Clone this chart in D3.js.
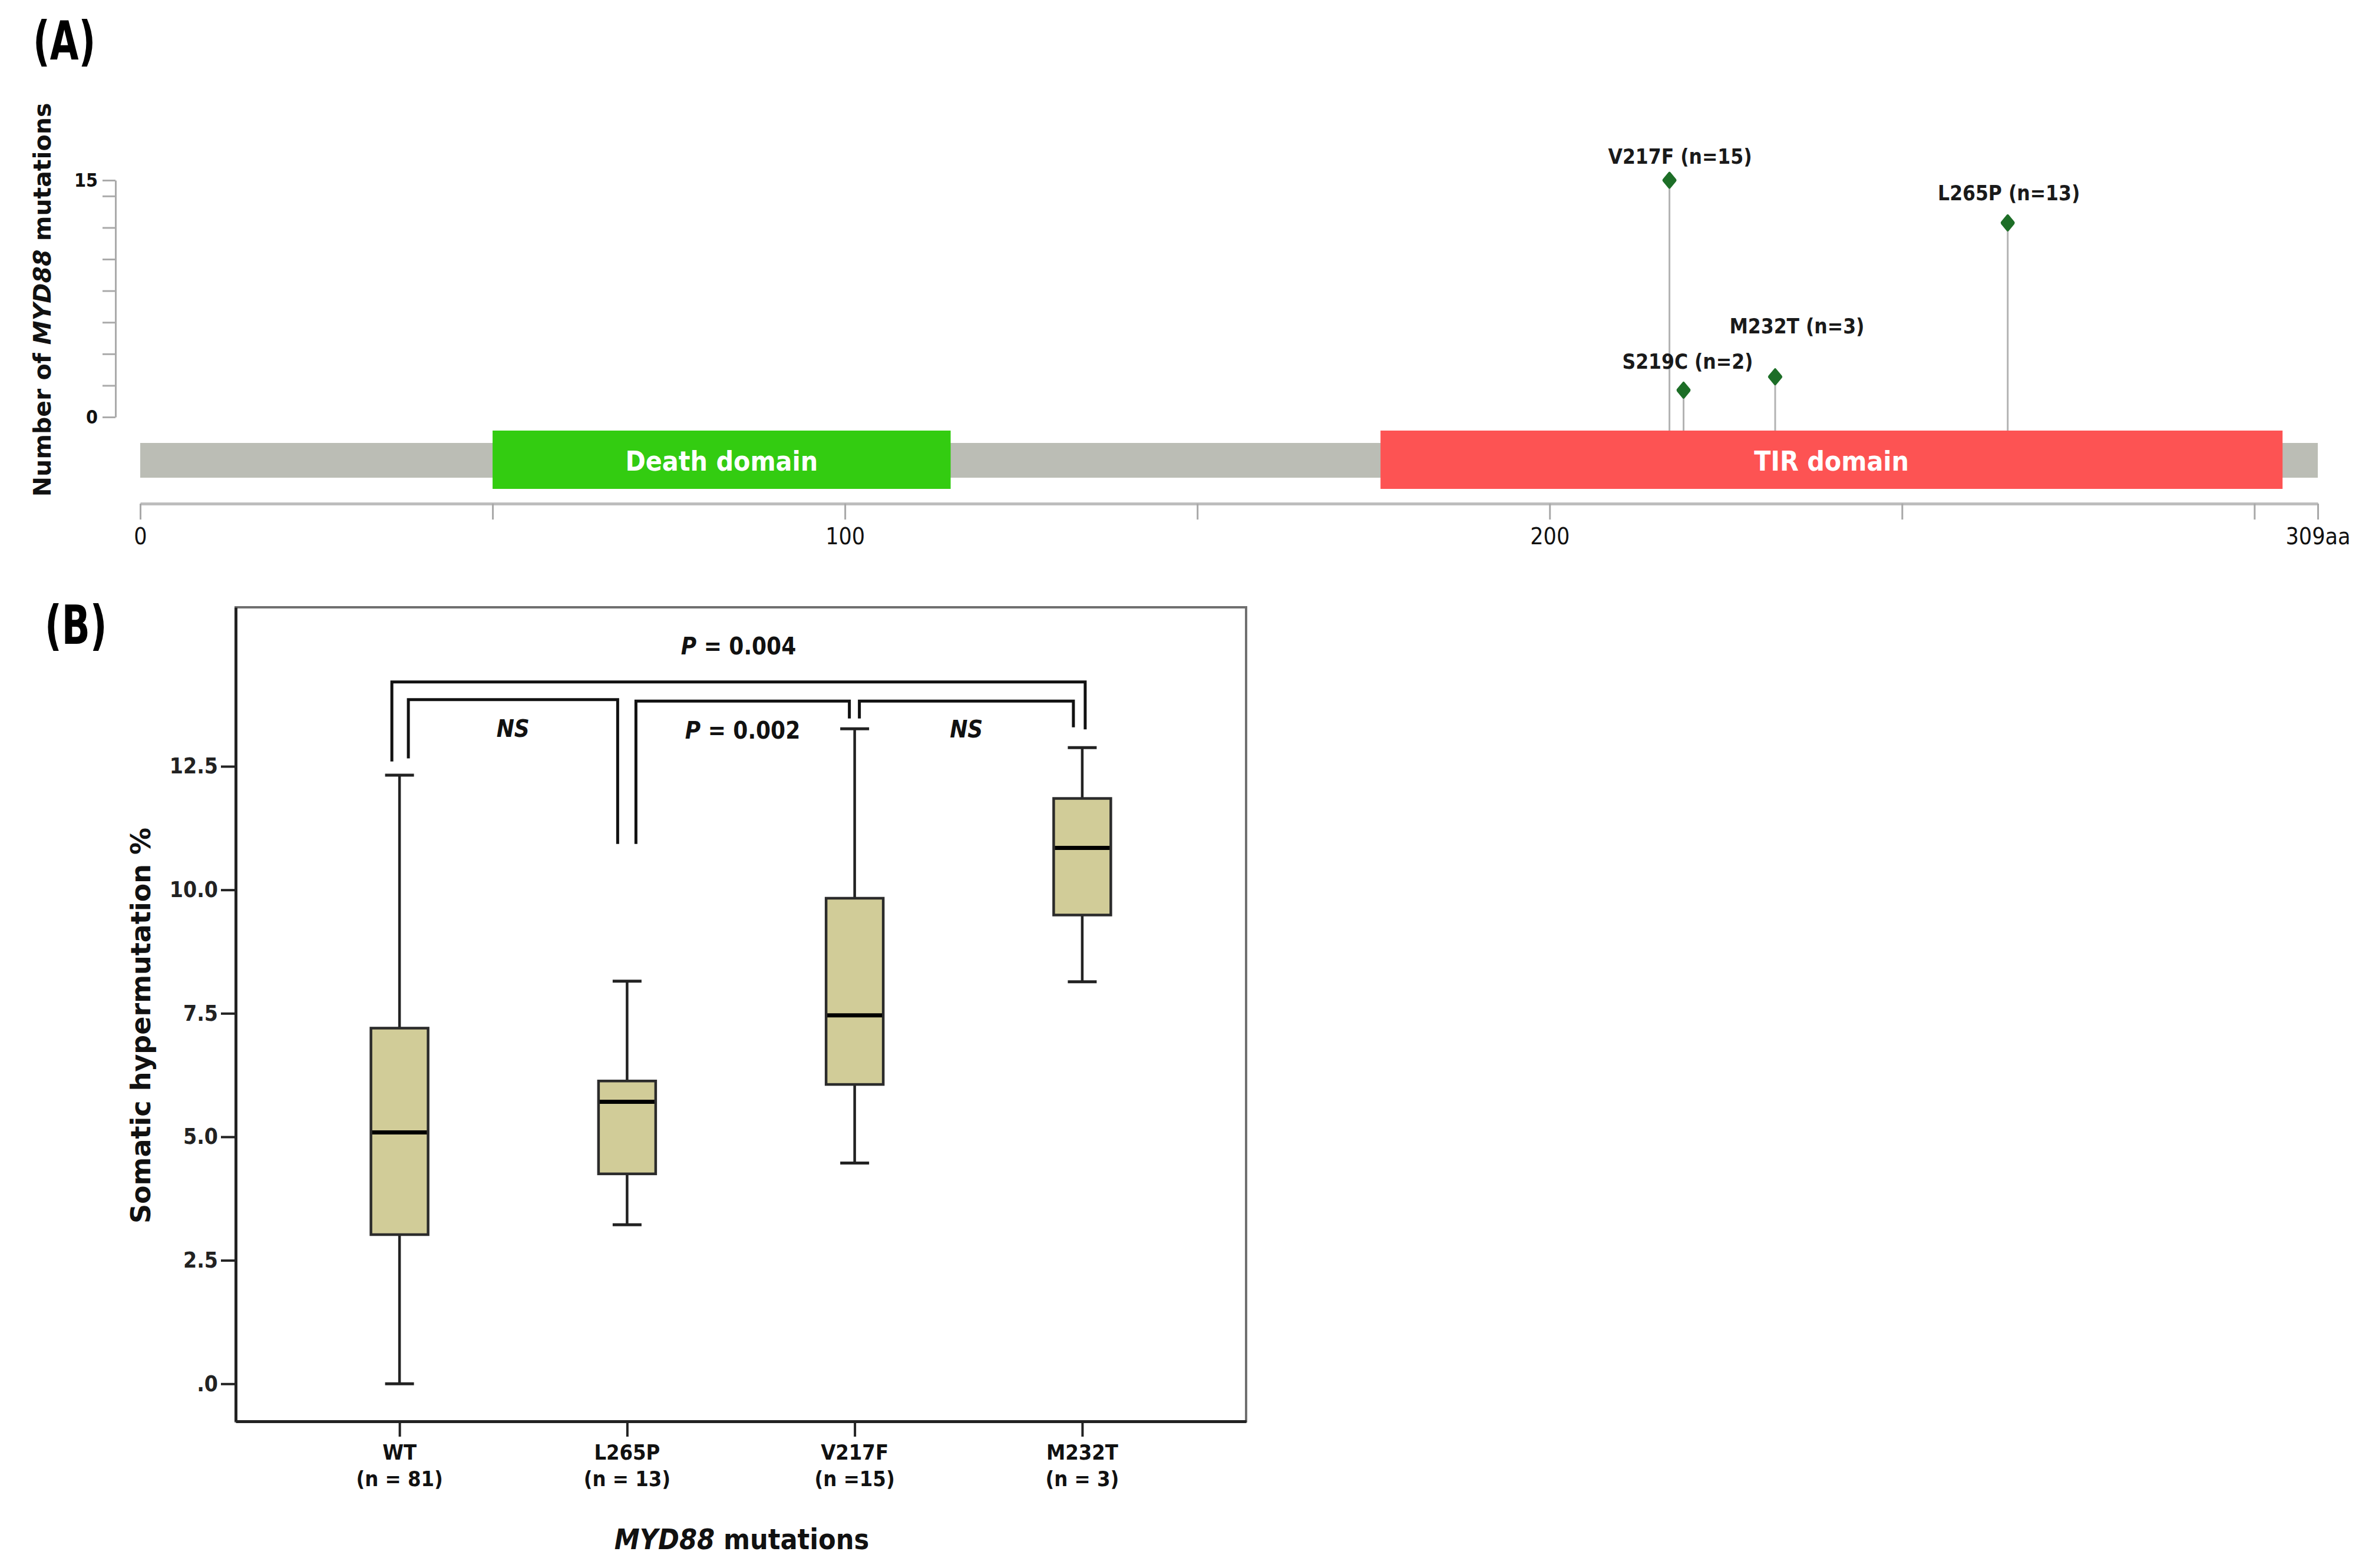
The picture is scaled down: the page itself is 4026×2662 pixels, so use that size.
<!DOCTYPE html>
<html>
<head>
<meta charset="utf-8">
<script src="https://cdn.jsdelivr.net/npm/d3@7"></script>
<style>
  body { margin: 0; background: #fff; }
  text { font-family: "DejaVu Sans Condensed", "Liberation Sans Narrow", "DejaVu Sans", sans-serif; }
</style>
</head>
<body>
<div class="render"></div>
<script>
// ---- panel A data: MYD88 protein (309 aa) ----
var proteinLength = 309;
var domainNames = ["Death domain", "TIR domain"];
var domainStart = [50, 176];
var domainEnd = [115, 304];
var domainColors = ["#33cc11", "#fd5353"];

var mutNames = ["V217F", "S219C", "M232T", "L265P"];
var mutPosition = [217, 219, 232, 265];
var mutCount = [15, 2, 3, 13];
// stem heights as drawn in the figure (count units)
var mutHeight = [15, 1.7, 2.55, 12.3];

var aaTicks = [0, 50, 100, 150, 200, 250, 300, 309];
var aaTickLabels = ["0", "", "100", "", "200", "", "", "309aa"];
var countTicks = [0, 2, 4, 6, 8, 10, 12, 14, 15];
var countTickLabels = ["0", "", "", "", "", "", "", "", "15"];

// ---- panel B data: somatic hypermutation by MYD88 status ----
var groups = ["WT", "L265P", "V217F", "M232T"];
var groupN = ["(n = 81)", "(n = 13)", "(n =15)", "(n = 3)"];
var whiskerLow = [0, 3.22, 4.47, 8.14];
var q1 = [3.02, 4.25, 6.06, 9.49];
var median = [5.09, 5.71, 7.46, 10.85];
var q3 = [7.20, 6.13, 9.83, 11.85];
var whiskerHigh = [12.32, 8.15, 13.26, 12.88];
var shmTicks = [0, 2.5, 5, 7.5, 10, 12.5];

// comparisons: [from, to], label, top of bracket, end of left leg, end of right leg, label level
var cmpPairs = [["WT", "M232T"], ["WT", "L265P"], ["L265P", "V217F"], ["V217F", "M232T"]];
var cmpLabels = [["P", " = 0.004"], ["NS", ""], ["P", " = 0.002"], ["NS", ""]];
var cmpTop = [14.21, 13.85, 13.82, 13.82];
var cmpLeftEnd = [12.6, 12.66, 10.93, 13.47];
var cmpRightEnd = [13.25, 10.93, 13.47, 13.29];
var cmpLabelAt = [14.93, 13.26, 13.23, 13.25];
// horizontal inset of the bracket legs from the group centres (px)
var cmpInset = [[-13, 5], [15, -16], [15, -9], [8, -15]];

var svg = d3.select(".render").append("svg")
    .attr("width", 4026).attr("height", 2662)
    .style("background", "#fff");

// ================= Panel A =================
var xA = d3.scaleLinear().domain([0, proteinLength]).range([238, 3934]);
var yA = d3.scaleLinear().domain([0, 15]).range([708, 306]);
var bandTop = 731, bandBottom = 830;

svg.append("text").attr("transform", "translate(56,101) scale(1,1.3)")
    .attr("font-size", 70).attr("font-weight", "bold").text("(A)");

// backbone
svg.append("rect")
    .attr("x", xA(0)).attr("y", 752)
    .attr("width", xA(proteinLength) - xA(0)).attr("height", 59)
    .attr("fill", "#bbbdb5");

// lollipop stems
var muts = mutNames.map(function(d, i) {
    return {name: d, pos: mutPosition[i], n: mutCount[i], h: mutHeight[i]};
});
svg.selectAll("line.stem").data(muts).enter().append("line")
    .attr("class", "stem")
    .attr("x1", function(d) { return xA(d.pos); })
    .attr("x2", function(d) { return xA(d.pos); })
    .attr("y1", function(d) { return yA(d.h); })
    .attr("y2", bandTop + 4)
    .attr("stroke", "#b3b3b3").attr("stroke-width", 3);

// domains
var doms = domainNames.map(function(d, i) {
    return {name: d, start: domainStart[i], end: domainEnd[i], color: domainColors[i]};
});
var gDom = svg.selectAll("g.dom").data(doms).enter().append("g").attr("class", "dom");
gDom.append("rect")
    .attr("x", function(d) { return xA(d.start); })
    .attr("y", bandTop)
    .attr("width", function(d) { return xA(d.end) - xA(d.start); })
    .attr("height", bandBottom - bandTop)
    .attr("fill", function(d) { return d.color; });
gDom.append("text")
    .attr("x", function(d) { return (xA(d.start) + xA(d.end)) / 2; })
    .attr("y", (bandTop + bandBottom) / 2 + 2)
    .attr("dy", "0.35em")
    .attr("text-anchor", "middle")
    .attr("font-size", 46).attr("font-weight", "bold")
    .attr("fill", "#fff")
    .text(function(d) { return d.name; });

// lollipop heads
var diamond = d3.symbol().type(d3.symbolDiamond2).size(230);
svg.selectAll("path.head").data(muts).enter().append("path")
    .attr("class", "head")
    .attr("d", diamond)
    .attr("transform", function(d) {
        return "translate(" + xA(d.pos) + "," + yA(d.h) + ") scale(1,1.2)";
    })
    .attr("fill", "#1d6e27").attr("stroke", "#1d6e27")
    .attr("stroke-width", 5).attr("stroke-linejoin", "round");

// mutation labels
var labelNudge = [[18, -40], [7, -49], [37, -86], [2, -51]];
svg.selectAll("text.mut").data(muts).enter().append("text")
    .attr("class", "mut")
    .attr("x", function(d, i) { return xA(d.pos) + labelNudge[i][0]; })
    .attr("y", function(d, i) { return yA(d.h) + labelNudge[i][1]; })
    .attr("dy", "0.35em")
    .attr("text-anchor", "middle")
    .attr("font-size", 35).attr("font-weight", "bold").attr("fill", "#1a1a1a")
    .text(function(d) { return d.name + " (n=" + d.n + ")"; });

// x axis (amino acids)
var axA = svg.append("g").attr("transform", "translate(0,855)")
    .call(d3.axisBottom(xA).tickValues(aaTicks).tickSize(27).tickSizeOuter(0).tickPadding(14)
        .tickFormat(function(d, i) { return aaTickLabels[i]; }));
axA.select(".domain").attr("stroke", "#bdbdbd").attr("stroke-width", 5);
axA.selectAll(".tick line").attr("stroke", "#a8a8a8").attr("stroke-width", 3);
axA.selectAll(".tick text").attr("font-size", 39).attr("fill", "#111")
    .attr("font-family", "DejaVu Sans Condensed, Liberation Sans Narrow, sans-serif");

// y axis (counts)
var ayA = svg.append("g").attr("transform", "translate(196,0)")
    .call(d3.axisLeft(yA).tickValues(countTicks).tickSize(22).tickSizeOuter(0).tickPadding(8)
        .tickFormat(function(d, i) { return countTickLabels[i]; }));
ayA.select(".domain").attr("stroke", "#aaa").attr("stroke-width", 3);
ayA.selectAll(".tick line").attr("stroke", "#aaa").attr("stroke-width", 3);
ayA.selectAll(".tick text").attr("font-size", 32).attr("font-weight", "bold").attr("fill", "#111")
    .attr("font-family", "DejaVu Sans Condensed, Liberation Sans Narrow, sans-serif");

var ylabA = svg.append("text")
    .attr("transform", "translate(72,509) rotate(-90)")
    .attr("dy", "0.35em").attr("text-anchor", "middle")
    .attr("font-size", 41).attr("font-weight", "bold").attr("fill", "#111")
    .style("font-family", "DejaVu Sans, Verdana, sans-serif");
ylabA.append("tspan").text("Number of ");
ylabA.append("tspan").attr("font-style", "italic").text("MYD88");
ylabA.append("tspan").text(" mutations");

// ================= Panel B =================
var bLeft = 400, bRight = 2115, bTop = 1031, bBottom = 2413;
var xB = d3.scalePoint().domain(groups).range([bLeft, bRight]).padding(0.72);
var yB = d3.scaleLinear().domain([-0.76, 15.72]).range([bBottom, bTop]);

svg.append("text").attr("transform", "translate(76,1093) scale(1,1.3)")
    .attr("font-size", 70).attr("font-weight", "bold").text("(B)");

// frame
svg.append("rect").attr("x", bLeft).attr("y", bTop)
    .attr("width", bRight - bLeft).attr("height", bBottom - bTop)
    .attr("fill", "none").attr("stroke", "#707070").attr("stroke-width", 4);

// y axis
var ayB = svg.append("g").attr("transform", "translate(" + bLeft + ",0)")
    .call(d3.axisLeft(yB).tickValues(shmTicks).tickSize(25).tickSizeOuter(0).tickPadding(5)
        .tickFormat(function(d) { return d === 0 ? ".0" : d.toFixed(1); }));
ayB.select(".domain").attr("stroke", "#222").attr("stroke-width", 5);
ayB.selectAll(".tick line").attr("stroke", "#222").attr("stroke-width", 4);
ayB.selectAll(".tick text").attr("font-size", 37).attr("font-weight", "bold").attr("fill", "#222")
    .attr("font-family", "Liberation Sans, Arial, sans-serif");

// x axis
var axB = svg.append("g").attr("transform", "translate(0," + bBottom + ")")
    .call(d3.axisBottom(xB).tickSize(26).tickSizeOuter(0).tickFormat(""));
axB.select(".domain").attr("stroke", "#222").attr("stroke-width", 5);
axB.selectAll(".tick line").attr("stroke", "#222").attr("stroke-width", 4);

var catLab = svg.selectAll("text.cat").data(groups).enter().append("text")
    .attr("class", "cat")
    .attr("text-anchor", "middle")
    .attr("font-size", 36).attr("font-weight", "bold").attr("fill", "#111");
catLab.append("tspan").attr("x", function(d) { return xB(d); }).attr("y", 2478)
    .text(function(d) { return d; });
catLab.append("tspan").attr("x", function(d) { return xB(d); }).attr("y", 2523)
    .text(function(d, i) { return groupN[i]; });

// boxes
var boxW = 97, capW = 49;
var boxes = groups.map(function(g, i) {
    return {g: g, lo: whiskerLow[i], q1: q1[i], med: median[i], q3: q3[i], hi: whiskerHigh[i]};
});
var gBox = svg.selectAll("g.box").data(boxes).enter().append("g").attr("class", "box");
gBox.append("line")
    .attr("x1", function(d) { return xB(d.g); }).attr("x2", function(d) { return xB(d.g); })
    .attr("y1", function(d) { return yB(d.lo); }).attr("y2", function(d) { return yB(d.hi); })
    .attr("stroke", "#222").attr("stroke-width", 4.5);
gBox.selectAll("line.cap").data(function(d) { return [d, d]; }).enter().append("line")
    .attr("class", "cap")
    .attr("x1", function(d) { return xB(d.g) - capW / 2; })
    .attr("x2", function(d) { return xB(d.g) + capW / 2; })
    .attr("y1", function(d, i) { return yB(i ? d.hi : d.lo); })
    .attr("y2", function(d, i) { return yB(i ? d.hi : d.lo); })
    .attr("stroke", "#222").attr("stroke-width", 5);
gBox.append("rect")
    .attr("x", function(d) { return xB(d.g) - boxW / 2; })
    .attr("y", function(d) { return yB(d.q3); })
    .attr("width", boxW)
    .attr("height", function(d) { return yB(d.q1) - yB(d.q3); })
    .attr("fill", "#d1cc98").attr("stroke", "#2b2b2b").attr("stroke-width", 4.5);
gBox.append("line")
    .attr("x1", function(d) { return xB(d.g) - boxW / 2 + 2; })
    .attr("x2", function(d) { return xB(d.g) + boxW / 2 - 2; })
    .attr("y1", function(d) { return yB(d.med); }).attr("y2", function(d) { return yB(d.med); })
    .attr("stroke", "#000").attr("stroke-width", 7);

// significance brackets
var cmps = cmpPairs.map(function(p, i) {
    return {
        x1: xB(p[0]) + cmpInset[i][0], x2: xB(p[1]) + cmpInset[i][1],
        top: cmpTop[i], l: cmpLeftEnd[i], r: cmpRightEnd[i],
        lab: cmpLabels[i], at: cmpLabelAt[i]
    };
});
svg.selectAll("path.br").data(cmps).enter().append("path")
    .attr("class", "br")
    .attr("d", function(d) {
        return "M" + d.x1 + "," + yB(d.l) + "V" + yB(d.top) + "H" + d.x2 + "V" + yB(d.r);
    })
    .attr("fill", "none").attr("stroke", "#111").attr("stroke-width", 5);

var brLab = svg.selectAll("text.brl").data(cmps).enter().append("text")
    .attr("class", "brl")
    .attr("x", function(d) { return (d.x1 + d.x2) / 2; })
    .attr("y", function(d) { return yB(d.at); })
    .attr("dy", "0.35em").attr("text-anchor", "middle")
    .attr("font-size", 40).attr("font-weight", "bold").attr("fill", "#111");
brLab.append("tspan").attr("font-style", "italic").text(function(d) { return d.lab[0]; });
brLab.append("tspan").text(function(d) { return d.lab[1]; });

// axis titles
svg.append("text")
    .attr("transform", "translate(239,1741) rotate(-90)")
    .attr("dy", "0.35em").attr("text-anchor", "middle")
    .attr("font-size", 46).attr("font-weight", "bold").attr("fill", "#111")
    .style("font-family", "DejaVu Sans, sans-serif")
    .text("Somatic hypermutation %");

var xt = svg.append("text")
    .attr("x", 1259).attr("y", 2613).attr("dy", "0.35em")
    .attr("text-anchor", "middle")
    .attr("font-size", 48).attr("font-weight", "bold").attr("fill", "#111");
xt.append("tspan").attr("font-style", "italic").text("MYD88");
xt.append("tspan").text(" mutations");
</script>
</body>
</html>
